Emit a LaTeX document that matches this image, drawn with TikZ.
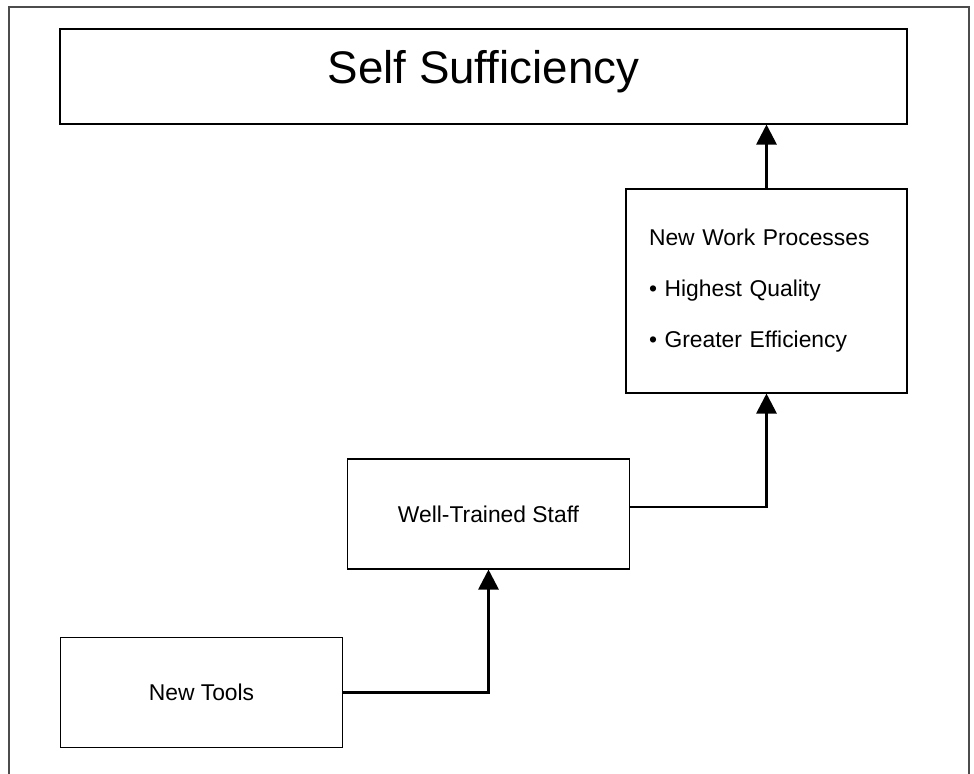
\documentclass[tikz,border=0pt]{standalone}
\usepackage{fontspec}
\setmainfont{Liberation Sans}
\usetikzlibrary{arrows.meta}
\tikzset{%
  >={Triangle[width=4mm,length=4mm]},
  % Specifications for style of nodes:
          base/.style = {rectangle, draw=black, line width=0.6pt,
                         inner sep=0pt, text centered,
                         font=\fontsize{13}{15}\selectfont},
          goal/.style = {base, minimum width=16.94cm, minimum height=1.9cm,
                         text depth=0.4cm, font=\fontsize{26}{30}\selectfont},
     stagenode/.style = {base, minimum width=5.64cm, minimum height=2.2cm},
   processnode/.style = {base, minimum height=4.08cm, text width=4.7cm,
                         inner xsep=0.46cm, align=left,
                         font=\fontsize{13}{29}\selectfont},
     connector/.style = {->, line width=1.6pt},
}

\begin{document}
\begin{tikzpicture}
  \useasboundingbox (0,0) rectangle (19.48,15.48);
  % outer frame (open at the bottom)
  \draw[line width=0.9pt, black!70] (0.18,0) |- (19.38,15.34) -- (19.38,0);
  % Specification of nodes (position, etc.)
  \node (selfsuff)  [goal]        at (9.67,13.95) {Self Sufficiency};
  \node (processes) [processnode] at (15.33,9.66)
        {New Work Processes\\\textbullet\ Highest Quality\\\textbullet\ Greater Efficiency};
  \node (staff)     [stagenode]   at (9.77,5.2)   {Well-Trained Staff};
  \node (tools)     [stagenode]   at (4.03,1.63)  {New Tools};
  % Specification of lines between nodes specified above
  \draw[connector] (tools.east) -| (staff.south);
  \draw[connector] ([yshift=0.14cm]staff.east) -| (processes.south);
  \draw[connector] (processes.north) -- (processes.north |- selfsuff.south);
\end{tikzpicture}
\end{document}
